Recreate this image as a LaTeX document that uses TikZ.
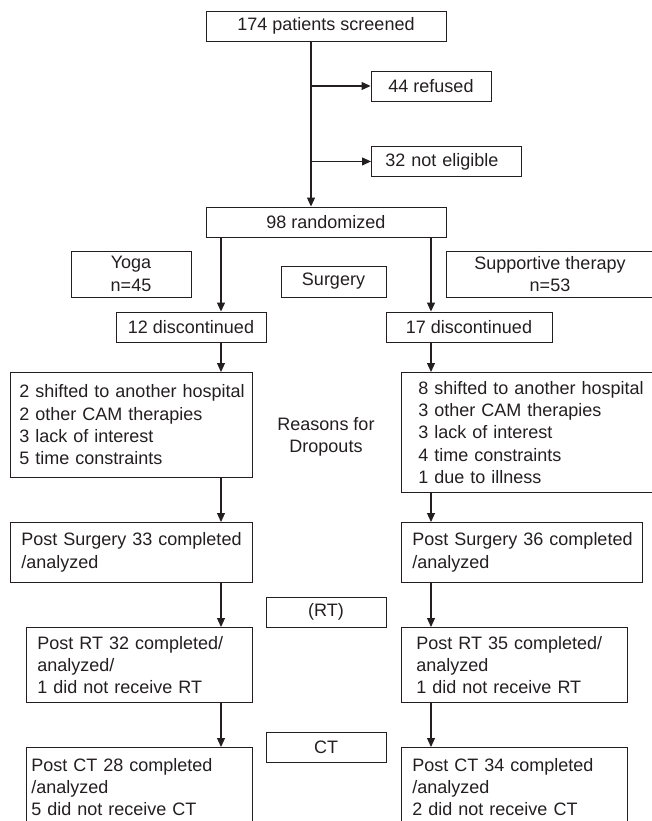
\documentclass[tikz,border=0pt]{standalone}
\usepackage{fontspec}
\setmainfont{Liberation Sans}
\usetikzlibrary{arrows.meta}
\definecolor{ink}{HTML}{231F20}

\begin{document}
\begin{tikzpicture}[x=1pt,y=-1pt,
    flowbox/.style={draw=ink, line width=0.9pt, inner sep=0pt, text=ink, font=\fontsize{18}{22.3}\selectfont},
    listbox/.style 2 args={flowbox, anchor=north west, align=left, text width=#1,
      execute at begin node={\leftskip=#2\relax}},
    arr/.style={draw=ink, line width=1.1pt, -{Triangle[length=9pt,width=8pt]}}]
  \useasboundingbox (0,0) rectangle (652,821);

  % enrolment
  \node[flowbox, minimum width=240pt, minimum height=30pt] (screened) at (326,26) {174 patients screened};
  \node[flowbox, minimum width=120pt, minimum height=30pt] (refused) at (431,86) {44 refused};
  \node[listbox={150pt}{14pt}, minimum height=30pt] (noteligible) at (371,146) {32 not eligible};
  \node[flowbox, minimum width=240pt, minimum height=30pt] (randomized) at (326,222) {98 randomized};

  % arms
  \node[flowbox, align=center, minimum width=120pt, minimum height=46pt] (yoga) at (131,274) {Yoga\\n=45};
  \node[flowbox, minimum width=105pt, minimum height=31pt] (surgery) at (333.5,281.5) {Surgery};
  \node[flowbox, align=center, minimum width=208pt, minimum height=46pt] (supportive) at (550,274) {Supportive therapy\\n=53};
  \node[flowbox, minimum width=150pt, minimum height=30pt] (discyoga) at (191,327) {12 discontinued};
  \node[flowbox, minimum width=166pt, minimum height=30pt] (discsupp) at (469,327) {17 discontinued};

  % dropouts
  \node[listbox={242pt}{9pt}, minimum height=105pt] (reasonsyoga) at (10,372)
    {2 shifted to another hospital\\2 other CAM therapies\\3 lack of interest\\5 time constraints};
  \node[listbox={270pt}{17pt}, minimum height=120pt] (reasonssupp) at (401,372)
    {8 shifted to another hospital\\3 other CAM therapies\\3 lack of interest\\4 time constraints\\1 due to illness};
  \node[flowbox, draw=none, align=center] (dropouts) at (326,437) {Reasons for\\Dropouts};

  % follow-up
  \node[listbox={242pt}{11pt}, minimum height=60pt] (surgyoga) at (10,522)
    {Post Surgery 33 completed\\/analyzed};
  \node[listbox={241pt}{11pt}, minimum height=60pt] (surgsupp) at (401,522)
    {Post Surgery 36 completed\\/analyzed};
  \node[flowbox, minimum width=120pt, minimum height=30pt] (rt) at (326,612) {(RT)};
  \node[listbox={226pt}{11pt}, minimum height=75pt] (rtyoga) at (26,627)
    {Post RT 32 completed/\\analyzed/\\1 did not receive RT};
  \node[listbox={226pt}{15pt}, minimum height=75pt] (rtsupp) at (401,627)
    {Post RT 35 completed/\\analyzed\\1 did not receive RT};
  \node[flowbox, minimum width=120pt, minimum height=30pt] (ct) at (326,747) {CT};
  \node[listbox={226pt}{5pt}, minimum height=79pt] (ctyoga) at (26,747)
    {Post CT 28 completed\\/analyzed\\5 did not receive CT};
  \node[listbox={226pt}{11pt}, minimum height=79pt] (ctsupp) at (401,747)
    {Post CT 34 completed\\/analyzed\\2 did not receive CT};

  % connectors
  \coordinate (trunk) at (311,41);
  \coordinate (lcol) at (221,0);
  \coordinate (rcol) at (431,0);
  \draw[arr] (trunk) -- (trunk |- randomized.north);
  \draw[arr] (refused.west -| trunk) -- (refused.west);
  \draw[arr] (noteligible.west -| trunk) -- (noteligible.west);

  \draw[arr] (randomized.south -| lcol) -- (discyoga.north -| lcol);
  \draw[arr] (discyoga.south -| lcol) -- (reasonsyoga.north -| lcol);
  \draw[arr] (reasonsyoga.south -| lcol) -- (surgyoga.north -| lcol);
  \draw[arr] (surgyoga.south -| lcol) -- (rtyoga.north -| lcol);
  \draw[arr] (rtyoga.south -| lcol) -- (ctyoga.north -| lcol);

  \draw[arr] (randomized.south -| rcol) -- (discsupp.north -| rcol);
  \draw[arr] (discsupp.south -| rcol) -- (reasonssupp.north -| rcol);
  \draw[arr] (reasonssupp.south -| rcol) -- (surgsupp.north -| rcol);
  \draw[arr] (surgsupp.south -| rcol) -- (rtsupp.north -| rcol);
  \draw[arr] (rtsupp.south -| rcol) -- (ctsupp.north -| rcol);
\end{tikzpicture}
\end{document}
